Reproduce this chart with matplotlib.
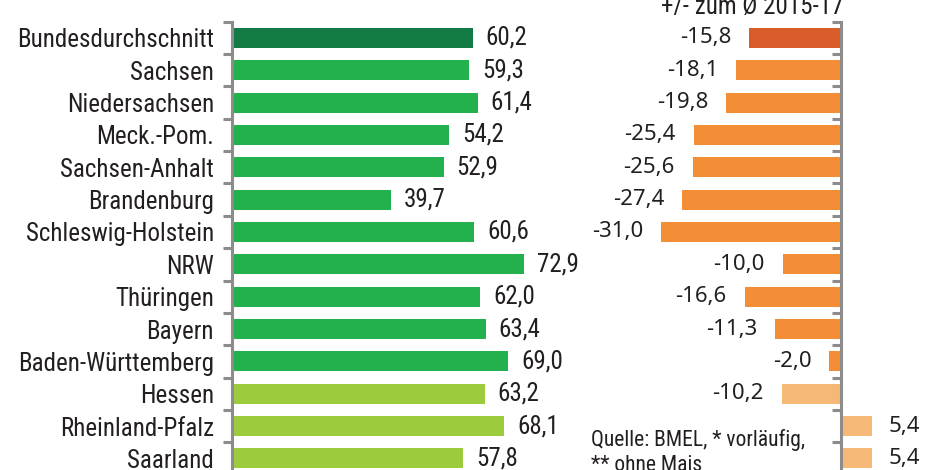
import matplotlib
matplotlib.use("Agg")
import matplotlib.pyplot as plt
from matplotlib import font_manager as fm

# ---- data ----
categories = ["Bundesdurchschnitt", "Sachsen", "Niedersachsen", "Meck.-Pom.",
              "Sachsen-Anhalt", "Brandenburg", "Schleswig-Holstein", "NRW",
              "Thüringen", "Bayern", "Baden-Württemberg", "Hessen",
              "Rheinland-Pfalz", "Saarland"]
yield_values = [60.2, 59.3, 61.4, 54.2, 52.9, 39.7, 60.6, 72.9, 62.0, 63.4,
                69.0, 63.2, 68.1, 57.8]
diff_values = [-15.8, -18.1, -19.8, -25.4, -25.6, -27.4, -31.0, -10.0, -16.6,
               -11.3, -2.0, -10.2, 5.4, 5.4]
groups = [0, 1, 1, 1, 1, 1, 1, 1, 1, 1, 1, 2, 2, 2]
right_title = "+/- zum Ø 2015-17"
source_text = "Quelle: BMEL, * vorläufig,\n** ohne Mais"

green_cols = ["#127A45", "#22B14C", "#9CCB3E"]
orange_cols = ["#D95C2A", "#F38E37", "#F6B877"]
axis_col = "#8C8C8C"
text_col = "#231F20"

avail = {f.name for f in fm.fontManager.ttflist}
narrow_first = next((n for n in ["Roboto Condensed", "Archivo Narrow",
                                 "PT Sans Narrow", "Liberation Sans Narrow",
                                 "Roboto"] if n in avail), "DejaVu Sans")
narrow = [narrow_first, "DejaVu Sans"]
wide = ["Noto Sans", "DejaVu Sans"]

W, H = 925, 470
fig = plt.figure(figsize=(W / 100, H / 100), dpi=100)

n = len(categories)
row_px = 32.35
top_px = 21.7
height_px = n * row_px
bottom_frac = 1 - (top_px + height_px) / H
height_frac = height_px / H

# left panel
l_zero, l_scale, l_max = 232.0, 4.0, 80
ax1 = fig.add_axes([l_zero / W, bottom_frac, l_max * l_scale / W, height_frac])
# right panel
r_zero, r_scale, r_min, r_max = 841.0, 5.8, -35, 10
ax2 = fig.add_axes([(r_zero + r_min * r_scale) / W, bottom_frac,
                    (r_max - r_min) * r_scale / W, height_frac])

ypos = list(range(n))
bounds = [i - 0.5 for i in range(n + 1)]

for ax in (ax1, ax2):
    ax.set_ylim(n - 0.5, -0.5)
    for s in ("top", "right", "bottom"):
        ax.spines[s].set_visible(False)
    ax.spines["left"].set_color(axis_col)
    ax.spines["left"].set_linewidth(2.2)
    ax.set_xticks([])
    ax.set_yticks(bounds, minor=True)
    ax.tick_params(axis="y", which="minor", length=6.5, width=2.2,
                   color=axis_col, direction="out")
    ax.patch.set_alpha(0)

ax1.set_xlim(0, l_max)
ax2.set_xlim(r_min, r_max)
ax2.spines["left"].set_position(("data", 0))

ax1.barh(ypos, yield_values, height=0.62,
         color=[green_cols[g] for g in groups], zorder=1)
ax2.barh(ypos, diff_values, height=0.62,
         color=[orange_cols[g] for g in groups], zorder=1)

ax1.set_yticks(ypos)
ax1.set_yticklabels(categories, family=narrow, fontsize=18, color=text_col)
ax1.tick_params(axis="y", which="major", length=0, pad=13)
ax2.set_yticks(ypos)
ax2.set_yticklabels([])
ax2.tick_params(axis="y", which="major", length=0)

def fmt(v):
    return f"{v:.1f}".replace(".", ",")

for y, v in zip(ypos, yield_values):
    ax1.annotate(fmt(v), (v, y), xytext=(13, 0), textcoords="offset pixels",
                 ha="left", va="center", family=narrow, fontsize=18,
                 color=text_col)

for y, v in zip(ypos, diff_values):
    off = -18 if v < 0 else 16
    ax2.annotate(fmt(v), (v, y), xytext=(off, 0), textcoords="offset pixels",
                 ha="right" if v < 0 else "left", va="center", family=wide,
                 fontsize=16, color=text_col)

fig.text(752 / W, 1 - 14 / H, right_title, ha="center", va="baseline",
         family=narrow, fontsize=18, color=text_col)
fig.text(591 / W, 1 - 429 / H, source_text, ha="left", va="top",
         family=narrow, fontsize=15.5, color=text_col, linespacing=1.25)

fig.savefig("out.png", dpi=100)
